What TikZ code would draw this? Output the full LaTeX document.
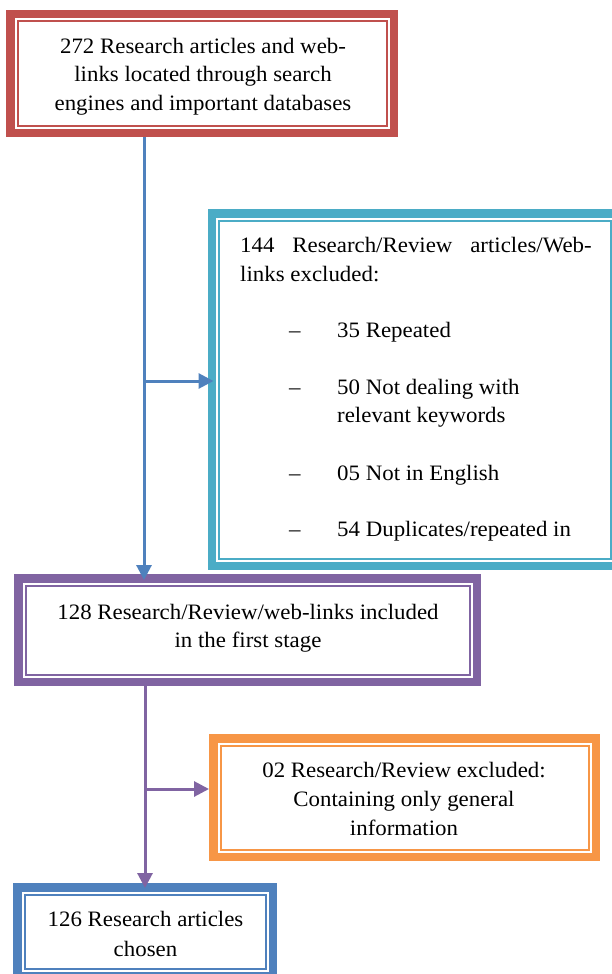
\documentclass[tikz,border=0pt]{standalone}
\usepackage{fontspec}
\setmainfont{Liberation Serif}[FakeStretch=1.04]
\usetikzlibrary{arrows.meta}
\definecolor{cred}{HTML}{C0504D}
\definecolor{ccyan}{HTML}{4BACC6}
\definecolor{cpurple}{HTML}{8064A2}
\definecolor{corange}{HTML}{F79646}
\definecolor{cblue}{HTML}{4F81BD}
\newcommand\myframe[2]{%
  \draw[#2, line width=8.5pt] ([shift={(4.25,4.25)}]#1.north west) rectangle ([shift={(-4.25,-4.25)}]#1.south east);
  \draw[#2, line width=2pt] ([shift={(11.5,11.5)}]#1.north west) rectangle ([shift={(-11.5,-11.5)}]#1.south east);}
\begin{document}
\begin{tikzpicture}[x=1pt,y=-1pt,
  frm/.style={rectangle, inner sep=0pt, outer sep=0pt},
  txt/.style={inner sep=0pt, anchor=base, font=\fontsize{22}{28}\selectfont},
  txtl/.style={txt, anchor=base west},
  conn/.style={line width=3pt, -{Triangle[length=15pt,width=15pt]}},
]
\useasboundingbox (0,0) rectangle (612,974);
\clip (0,0) rectangle (612,974);
% boxes
\node[frm, minimum width=392pt, minimum height=127pt] (top) at (202,73.5) {};
\node[frm, minimum width=414.5pt, minimum height=361pt] (cyan) at (414.75,389.5) {};
\node[frm, minimum width=467pt, minimum height=112pt] (purple) at (247.5,630) {};
\node[frm, minimum width=391pt, minimum height=127pt] (orange) at (404.5,797.5) {};
\node[frm, minimum width=264pt, minimum height=97pt] (bot) at (145,931.5) {};
\myframe{top}{cred}
\myframe{cyan}{ccyan}
\myframe{purple}{cpurple}
\myframe{orange}{corange}
\myframe{bot}{cblue}
% texts
\node[txt] (t1) at (203,53.3) {272 Research articles and web-};
\node[txt] (t2) at (203,81.7) {links located through search};
\node[txt] (t3) at (203,110) {engines and important databases};
\node[txtl] (c1) at (240,252.3) {\hbox to 351.5pt{144\hfill Research/Review\hfill articles/Web-}};
\node[txtl] (c2) at (240,281) {links excluded:};
\node[txtl] (d1) at (289,337.7) {–};
\node[txtl] (c3) at (337,337.7) {35 Repeated};
\node[txtl] (d2) at (289,394) {–};
\node[txtl] (c4) at (337,394) {50 Not dealing with};
\node[txtl] (c5) at (337,422.7) {relevant keywords};
\node[txtl] (d3) at (289,480) {–};
\node[txtl] (c6) at (337,480) {05 Not in English};
\node[txtl] (d4) at (289,536) {–};
\node[txtl] (c7) at (337,536) {54 Duplicates/repeated in};
\node[txt] (p1) at (248,619) {128 Research/Review/web-links included};
\node[txt] (p2) at (248,647) {in the first stage};
\node[txt] (o1) at (404,777.3) {02 Research/Review excluded:};
\node[txt] (o2) at (404,806.7) {Containing only general};
\node[txt] (o3) at (404,835.3) {information};
\node[txt] (b1) at (145.5,926.7) {126 Research articles};
\node[txt] (b2) at (145.5,956) {chosen};
% connectors
\coordinate (spineA) at (144,0);
\coordinate (spineB) at (145,0);
\coordinate (brA) at (144,381);
\coordinate (brB) at (145,789);
\draw[conn, cblue, shorten >=-6pt] (top.south -| spineA) -- (purple.north -| spineA);
\draw[conn, cblue, shorten >=-6pt] (brA) -- (brA -| cyan.west);
\draw[conn, cpurple, shorten >=-5pt] (purple.south -| spineB) -- (bot.north -| spineB);
\draw[conn, cpurple] (brB) -- (brB -| orange.west);
\end{tikzpicture}
\end{document}
